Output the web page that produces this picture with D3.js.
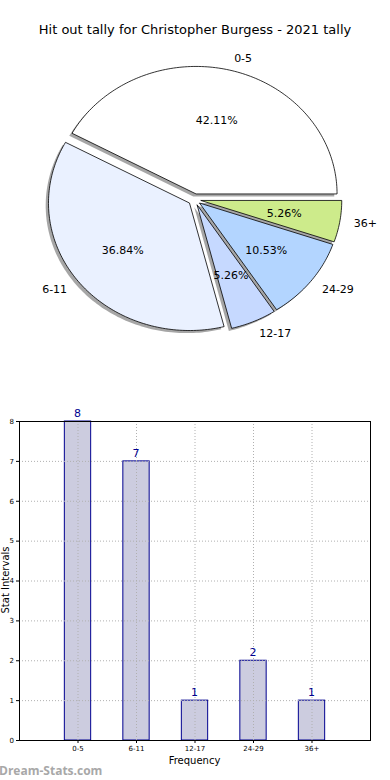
<!DOCTYPE html>
<html><head><meta charset="utf-8">
<script src="https://cdn.jsdelivr.net/npm/d3@7"></script>
<style>body{margin:0;background:#fff}svg{display:block;font-family:"DejaVu Sans",sans-serif}</style>
</head><body>
<svg id="c" width="390" height="780"></svg>
<script>
const categories = ["0-5","6-11","12-17","24-29","36+"];
const counts = [8,7,1,2,1];
const sliceColors = ["#ffffff","#eaf1ff","#c6d9ff","#b3d5ff","#cdeb8b"];
const yTicks = [0,1,2,3,4,5,6,7,8];
const title = "Hit out tally for Christopher Burgess - 2021 tally";

const svg = d3.select("#c");
svg.append("text").attr("x",195).attr("y",34).attr("text-anchor","middle")
  .attr("font-size",13).attr("fill","#000").text(title);

// ---- Pie (matplotlib style: start at 0 rad, counter-clockwise) ----
const cx = 194.5, cy = 199.5, rx = 141, ry = 127.5, explode = 0.045;
const total = d3.sum(counts);
const pie = d3.pie().sort(null).value(d=>d).startAngle(0).endAngle(2*Math.PI);
const arcs = pie(counts);
function pt(theta, r){ return [r*rx*Math.cos(theta), -r*ry*Math.sin(theta)]; }
function wedgePath(a0, a1){
  const n = Math.max(8, Math.ceil((a1-a0)/0.02));
  const p = d3.path(); p.moveTo(0,0);
  for(let i=0;i<=n;i++){ const t=a0+(a1-a0)*i/n; const q=pt(t,1); p.lineTo(q[0],q[1]); }
  p.closePath(); return p.toString();
}
const gPie = svg.append("g").attr("transform",`translate(${cx},${cy})`);
const wedges = arcs.map((a,i)=>{
  const t0=a.startAngle, t1=a.endAngle, mid=(t0+t1)/2;
  const off = pt(mid, explode);
  return {i, t0, t1, mid, off};
});
wedges.forEach(w=>{
  gPie.append("path").attr("d",wedgePath(w.t0,w.t1))
    .attr("transform",`translate(${w.off[0]-2.8},${w.off[1]+2.6})`)
    .attr("fill","#000").attr("fill-opacity",0.35).attr("stroke","none");
});
wedges.forEach(w=>{
  gPie.append("path").attr("d",wedgePath(w.t0,w.t1))
    .attr("transform",`translate(${w.off[0]},${w.off[1]})`)
    .attr("fill",sliceColors[w.i]).attr("stroke","#000").attr("stroke-width",0.8)
    .attr("stroke-linejoin","miter");
});
wedges.forEach(w=>{
  const lp = pt(w.mid, 1.1+explode);
  gPie.append("text").attr("x",lp[0]).attr("y",lp[1]).attr("dy","0.35em")
    .attr("text-anchor", lp[0]>0 ? "start" : "end").attr("font-size",11).attr("fill","#000")
    .text(categories[w.i]);
  const pp = pt(w.mid, 0.6+explode);
  gPie.append("text").attr("x",pp[0]).attr("y",pp[1]).attr("dy","0.35em")
    .attr("text-anchor","middle").attr("font-size",11).attr("fill","#000")
    .text((counts[w.i]/total*100).toFixed(2)+"%");
});

// ---- Bar chart ----
const L=19, R=370, T=421, B=740;
const x = d3.scaleLinear().domain([-1,5]).range([L,R]);
const y = d3.scaleLinear().domain([0,8]).range([B,T]);
const g = svg.append("g");
const bw = 0.45;
g.selectAll("rect.bar").data(counts).join("rect").attr("class","bar")
  .attr("x",(d,i)=>x(i-bw/2)).attr("width",x(bw)-x(0))
  .attr("y",d=>y(d)).attr("height",d=>y(0)-y(d))
  .attr("fill","#ccccdf").attr("stroke","#000090").attr("stroke-width",1);
g.selectAll("line.hg").data(yTicks).join("line").attr("class","hg")
  .attr("x1",L).attr("x2",R).attr("y1",d=>y(d)+0.5).attr("y2",d=>y(d)+0.5)
  .attr("stroke","#b0b0b0").attr("stroke-width",1).attr("stroke-dasharray","1,2");
g.selectAll("line.vg").data(categories).join("line").attr("class","vg")
  .attr("x1",(d,i)=>x(i)+0.5).attr("x2",(d,i)=>x(i)+0.5).attr("y1",T).attr("y2",B)
  .attr("stroke","#b0b0b0").attr("stroke-width",1).attr("stroke-dasharray","1,2");
g.append("rect").attr("x",L+0.5).attr("y",T+0.5).attr("width",R-L).attr("height",B-T)
  .attr("fill","none").attr("stroke","#000").attr("stroke-width",1);
const ya = d3.axisLeft(y).tickValues(yTicks).tickSize(3).tickPadding(2).tickFormat(d3.format("d"));
const yg = g.append("g").attr("transform",`translate(${L},0)`).call(ya);
yg.select(".domain").remove();
yg.selectAll("text").attr("font-size",7).attr("font-family","DejaVu Sans");
yg.selectAll("line").attr("stroke","#000");
const xa = d3.axisBottom(x).tickValues(d3.range(categories.length)).tickFormat(i=>categories[i]).tickSize(3).tickPadding(3);
const xg = g.append("g").attr("transform",`translate(0,${B})`).call(xa);
xg.select(".domain").remove();
xg.selectAll("text").attr("font-size",7).attr("font-family","DejaVu Sans");
g.selectAll("text.val").data(counts).join("text").attr("class","val")
  .attr("x",(d,i)=>x(i)).attr("y",d=>y(d)-4).attr("text-anchor","middle")
  .attr("font-size",11).attr("fill","#000090").text(d=>d);
svg.append("text").attr("x",x(2)).attr("y",764).attr("text-anchor","middle")
  .attr("font-size",10).text("Frequency");
svg.append("text").attr("transform","translate(9,580) rotate(-90)").attr("text-anchor","middle")
  .attr("font-size",10).text("Stat Intervals");
svg.append("text").attr("x",-1).attr("y",775).attr("font-size",12).attr("font-weight","bold")
  .attr("fill","#a8a8a8").attr("font-family","'Open Sans','DejaVu Sans',sans-serif").text("Dream-Stats.com");
</script>
</body></html>
